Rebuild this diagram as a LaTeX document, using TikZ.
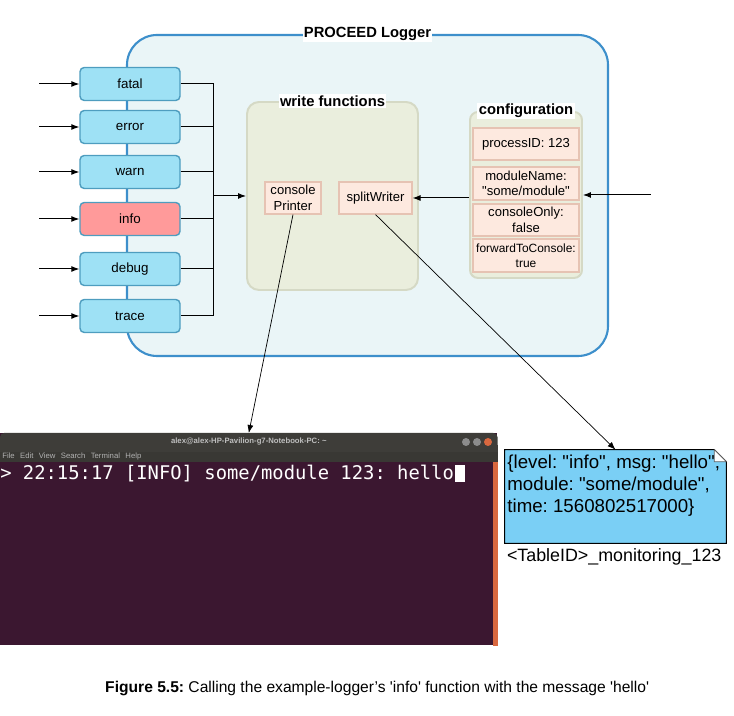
\documentclass[tikz,border=0pt]{standalone}
\usepackage{fontspec}
\setmainfont{Liberation Sans}
\newfontfamily\termfont{DejaVu Sans Mono}
\usepackage{xcolor}
\usepackage{tikz}
\usetikzlibrary{positioning}
\usetikzlibrary{arrows.meta}
\usetikzlibrary{calc}

\definecolor{loggerfill}{HTML}{EAF5F7}
\definecolor{loggerline}{HTML}{3D8FCB}
\definecolor{levelfill}{HTML}{9EE1F5}
\definecolor{levelline}{HTML}{4E9DBF}
\definecolor{infofill}{HTML}{FF9A9A}
\definecolor{groupfill}{HTML}{EAEEDD}
\definecolor{groupline}{HTML}{D5D9C5}
\definecolor{itemfill}{HTML}{FDE9DF}
\definecolor{itemline}{HTML}{E6C3B3}
\definecolor{notefill}{HTML}{7ACFF5}
\definecolor{termbg}{HTML}{3B1730}
\definecolor{termbar}{HTML}{3E3D39}
\definecolor{termmenu}{HTML}{393834}
\definecolor{termorange}{HTML}{D9683F}

\newcommand{\dq}{\textquotedbl}
\newcommand{\sq}{\textquotesingle}
\frenchspacing

\begin{document}
\begin{tikzpicture}[
				level/.style={rectangle, rounded corners=3pt, draw=levelline, line width=1pt,
						fill=levelfill, minimum width=2.5cm, minimum height=0.825cm,
						font=\fontsize{9.5}{11}\selectfont, text centered},
				group/.style={rectangle, draw=groupline, line width=1.4pt, fill=groupfill},
				item/.style={rectangle, draw=itemline, line width=0.8pt, fill=itemfill,
						inner sep=1pt, font=\fontsize{9.3}{11}\selectfont, align=center},
				title/.style={fill=white, inner sep=1pt, font=\fontsize{10.5}{12}\selectfont\bfseries},
				arr/.style={-{Latex[length=2mm, width=1.5mm]}, line width=0.7pt}
			]
			\useasboundingbox (0,0) rectangle (18.35,17.9);

			% PROCEED Logger container
			\node[draw=loggerline, line width=1.5pt, fill=loggerfill, rounded corners=0.75cm,
				minimum width=12.025cm, minimum height=8.025cm] (logger) at (9.1875,13.0125) {};
			\node[title] at (logger.north) {PROCEED Logger};

			% log levels
			\node[level] (fatal) at (3.25,15.8) {fatal};
			\node[level] (error) at (3.25,14.725) {error};
			\node[level] (warn) at (3.25,13.6) {warn};
			\node[level, fill=infofill] (info) at (3.25,12.425) {info};
			\node[level] (debug) at (3.25,11.175) {debug};
			\node[level] (trace) at (3.25,10.0) {trace};

			\draw[arr] ($(fatal.west)+(-1,0)$) -- (fatal.west);
			\draw[arr] ($(error.west)+(-1,0)$) -- (error.west);
			\draw[arr] ($(warn.west)+(-1,0)$) -- (warn.west);
			\draw[arr] ($(info.west)+(-1,0)$) -- (info.west);
			\draw[arr] ($(debug.west)+(-1,0)$) -- (debug.west);
			\draw[arr] ($(trace.west)+(-1,0)$) -- (trace.west);

			% write functions
			\node[group, rounded corners=0.3cm, minimum width=4.275cm, minimum height=4.7cm] (writefn) at (8.3125,13.0) {};
			\node[title] at (writefn.north) {write functions};
			\node[item, minimum width=1.4cm, minimum height=0.8cm] (printer) at (7.325,12.95) {console\\Printer};
			\node[item, minimum width=1.825cm, minimum height=0.8cm] (splitter) at (9.3875,12.95) {splitWriter};

			% bus from the levels
			\coordinate (bus) at (5.325,13.0);
			\draw[line width=0.7pt] (fatal.east) -- (fatal.east -| bus) -- (trace.east -| bus) -- (trace.east);
			\draw[line width=0.7pt] (error.east) -- (error.east -| bus);
			\draw[line width=0.7pt] (warn.east) -- (warn.east -| bus);
			\draw[line width=0.7pt] (info.east) -- (info.east -| bus);
			\draw[line width=0.7pt] (debug.east) -- (debug.east -| bus);
			\draw[arr] (bus) -- (writefn.west);

			% configuration
			\node[group, rounded corners=0.2cm, minimum width=2.8cm, minimum height=4.15cm] (config) at (13.15,13.025) {};
			\node[title] at (config.north) {configuration};
			\node[item, minimum width=2.65cm, minimum height=0.8cm] (pid) at (13.15,14.3) {processID: 123};
			\node[item, minimum width=2.65cm, minimum height=0.825cm] (modname) at (13.15,13.3125) {moduleName:\\\dq some/module\dq};
			\node[item, minimum width=2.65cm, minimum height=0.8cm] (conly) at (13.15,12.4) {consoleOnly:\\false};
			\node[item, minimum width=2.65cm, minimum height=0.825cm, font=\fontsize{8.5}{11}\selectfont] (fwd) at (13.15,11.5125) {forwardToConsole:\\true};

			\draw[arr] ($(config.east)+(1.7,0)$) -- (config.east);
			\draw[arr] (splitter.east -| config.west) -- (splitter.east);

			% terminal window
			\node[fill=termbg, inner sep=0, minimum width=12.425cm, minimum height=5.3cm, anchor=north west] (term) at (0,7.075) {};
			\fill[termbar, rounded corners=3pt] (term.north west) rectangle ($(term.north east)+(0,-0.5)$);
			\fill[termbar] ($(term.north west)+(0,-0.3)$) rectangle ($(term.north east)+(0,-0.475)$);
			\fill[termmenu] ($(term.north west)+(0,-0.475)$) rectangle ($(term.north east)+(0,-0.725)$);
			\fill[termorange] ($(term.north east)+(-0.125,-0.725)$) rectangle (term.south east);
			\node[text=white!75!black, font=\fontsize{5.5}{6}\selectfont\bfseries] (termtitle) at ($(term.north)+(0,-0.225)$) {alex@alex-HP-Pavilion-g7-Notebook-PC: \textasciitilde};
			\node[anchor=west, inner sep=0, text=white!70!black, font=\fontsize{5.5}{6}\selectfont] (termmenu) at ($(term.north west)+(0.05,-0.6)$) {File\hspace{0.7em}Edit\hspace{0.7em}View\hspace{0.7em}Search\hspace{0.7em}Terminal\hspace{0.7em}Help};
			\fill[white!55!black] (11.65,6.85) circle (0.1);
			\fill[white!55!black] (11.925,6.85) circle (0.1);
			\fill[termorange] (12.2,6.85) circle (0.1);
			\node[anchor=west, inner sep=0, text=white, font=\termfont\fontsize{13.4}{15}\selectfont] (prompt) at (0,6.05) {> 22:15:17 [INFO] some/module 123: hello};
			\node[right=0pt of prompt, fill=white, inner sep=0, minimum width=0.25cm, minimum height=0.425cm] (cursor) {};

			% stored message
			\node[minimum width=5.525cm, minimum height=2.325cm, inner sep=0] (note) at (15.3875,5.4875) {};
			\filldraw[fill=notefill, draw=black, line width=0.7pt] (note.south west) -- (note.north west) -- ($(note.north east)+(-0.3,0)$) -- ($(note.north east)+(0,-0.3)$) -- (note.south east) -- cycle;
			\filldraw[fill=white, draw=black!60, line width=0.5pt] ($(note.north east)+(-0.3,0)$) -- ($(note.north east)+(-0.3,-0.3)$) -- ($(note.north east)+(0,-0.3)$) -- cycle;
			\node[anchor=north west, inner sep=0, align=left, font=\fontsize{13.3}{15.5}\selectfont] (msg) at ($(note.north west)+(0.06,-0.13)$) {\{level: \dq info\dq, msg: \dq hello\dq,\\module: \dq some/module\dq,\\time: 1560802517000\}};
			\node[anchor=north west, inner sep=0, font=\fontsize{12.7}{14}\selectfont] (table) at ($(note.south west)+(0.05,-0.12)$) {<TableID>\_monitoring\_123};

			% connectors to the outputs
			\draw[arr, line width=0.5pt] (printer.south) -- (term.north);
			\draw[arr, line width=0.5pt] (splitter.south) -- (note.north);

			% caption
			\node[font=\fontsize{11.1}{13}\selectfont] (caption) at (9.43,0.675) {\textbf{Figure 5.5:} Calling the example-logger's \sq info\sq\ function with the message \sq hello\sq};

		\end{tikzpicture}
\end{document}
